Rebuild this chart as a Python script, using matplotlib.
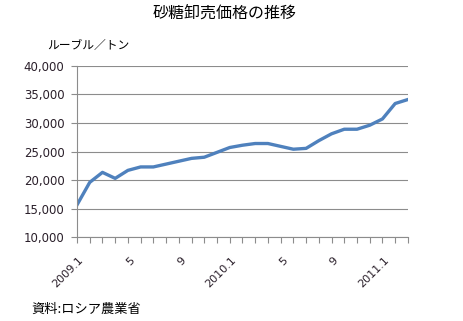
import numpy as np
import matplotlib
matplotlib.use("Agg")
import matplotlib.pyplot as plt
from matplotlib.ticker import FuncFormatter

plt.rcParams['font.family'] = ['Noto Sans CJK JP', 'DejaVu Sans']

# monthly sugar wholesale price, 2009.1 - 2011.3 (rubles / ton)
months = ['2009.1', '2', '3', '4', '5', '6', '7', '8', '9', '10', '11', '12',
          '2010.1', '2', '3', '4', '5', '6', '7', '8', '9', '10', '11', '12',
          '2011.1', '2', '3']
prices = [15650, 19600, 21350, 20300, 21700, 22300, 22300, 22800, 23300, 23800,
          24000, 24850, 25700, 26100, 26400, 26400, 25900, 25400, 25550, 26900,
          28100, 28900, 28900, 29600, 30700, 33400, 34100]
shown_labels = ['2009.1', '5', '9', '2010.1', '5', '9', '2011.1']

fig = plt.figure(figsize=(4.63, 3.21), dpi=100)
ax = fig.add_axes([0.1663, 0.261, 0.881 - 0.1663, 0.795 - 0.261])

x = np.arange(len(prices))
ax.plot(x, prices, color='#4F81BD', lw=2.4, solid_joinstyle='round')

ax.set_xlim(0, len(prices) - 1)
ax.set_ylim(10000, 40000)
ax.set_yticks(np.arange(10000, 40001, 5000))
ax.yaxis.set_major_formatter(FuncFormatter(lambda v, p: '{:,.0f}'.format(v)))
ax.grid(axis='y', color='#8c8c8c', lw=0.8)
ax.set_axisbelow(True)

ax.set_xticks(x)
lab_pos = [0, 4, 8, 12, 16, 20, 24]
ax.set_xticklabels(['' for _ in x])
for p, t in zip(lab_pos, shown_labels):
    ax.annotate(t, (p, 0), xycoords=ax.get_xaxis_transform(),
                xytext=(1, -13), textcoords='offset points',
                rotation=45, ha='right', va='top', rotation_mode='anchor',
                fontsize=8, color='#2a1f2a', family='DejaVu Sans')

for s in ['top', 'right']:
    ax.spines[s].set_visible(False)
for s in ['left', 'bottom']:
    ax.spines[s].set_color('#8c8c8c')
ax.tick_params(axis='both', color='#8c8c8c', length=4, direction='out',
               labelsize=8.5, labelcolor='#2a1f2a', pad=5)
for lb in ax.get_yticklabels():
    lb.set_family('DejaVu Sans')

fig.text(0.486, 0.96, '砂糖卸売価格の推移', ha='center', va='center', fontsize=11.5)
fig.text(0.103, 0.858, 'ルーブル／トン', ha='left', va='center', fontsize=8.5)
fig.text(0.068, 0.035, '資料:ロシア農業省', ha='left', va='center', fontsize=9.5)

fig.savefig('out.png', dpi=100)
